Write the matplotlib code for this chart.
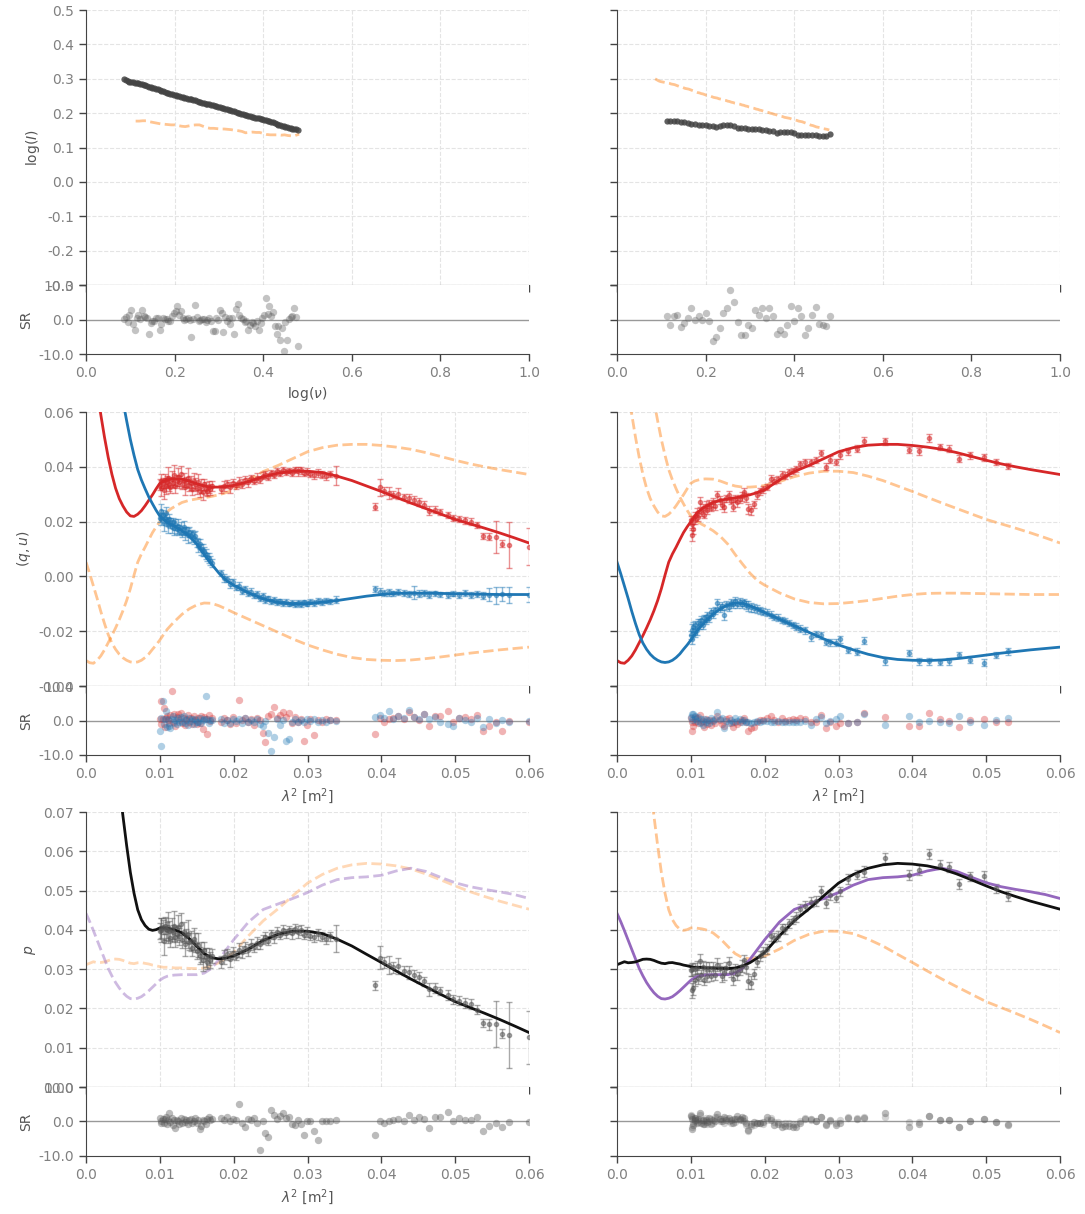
import numpy as np
import matplotlib.pyplot as plt

plt.rcParams['axes.unicode_minus'] = False
plt.rcParams['font.size'] = 10

RED = '#d62728'
BLUE = '#1f77b4'
ORANGE = '#ff7f0e'
PURPLE = '#9467bd'
BLACK = '#111111'
GREY = '#555555'
SPINE = '#444444'
TICK = '#808080'
LABEL = '#555555'

# spectra: log(nu), log(I) and standardised residuals, source a / source b
lognu_a = [0.086, 0.090, 0.094, 0.098, 0.102, 0.106, 0.110, 0.114, 0.118, 0.122,
           0.126, 0.130, 0.134, 0.138, 0.142, 0.146, 0.150, 0.154, 0.158, 0.162,
           0.166, 0.170, 0.174, 0.178, 0.182, 0.186, 0.190, 0.194, 0.198, 0.202,
           0.206, 0.210, 0.214, 0.218, 0.222, 0.226, 0.230, 0.234, 0.238, 0.242,
           0.246, 0.250, 0.254, 0.258, 0.262, 0.266, 0.270, 0.274, 0.278, 0.282,
           0.286, 0.290, 0.294, 0.298, 0.302, 0.306, 0.310, 0.314, 0.318, 0.322,
           0.326, 0.330, 0.334, 0.338, 0.342, 0.346, 0.350, 0.354, 0.358, 0.362,
           0.366, 0.370, 0.374, 0.378, 0.382, 0.386, 0.390, 0.394, 0.398, 0.402,
           0.406, 0.410, 0.414, 0.418, 0.422, 0.426, 0.430, 0.434, 0.438, 0.442,
           0.446, 0.450, 0.454, 0.458, 0.462, 0.466, 0.470, 0.474, 0.479]
logI_a = [0.300, 0.297, 0.294, 0.292, 0.291, 0.290, 0.289, 0.288, 0.287, 0.285,
          0.284, 0.283, 0.281, 0.279, 0.277, 0.276, 0.274, 0.272, 0.271, 0.270,
          0.268, 0.266, 0.264, 0.262, 0.260, 0.259, 0.257, 0.256, 0.254, 0.252,
          0.251, 0.250, 0.248, 0.246, 0.245, 0.244, 0.242, 0.241, 0.240, 0.238,
          0.237, 0.235, 0.234, 0.232, 0.231, 0.229, 0.228, 0.227, 0.226, 0.224,
          0.223, 0.221, 0.220, 0.218, 0.217, 0.215, 0.214, 0.212, 0.211, 0.209,
          0.208, 0.206, 0.205, 0.203, 0.202, 0.200, 0.199, 0.197, 0.196, 0.194,
          0.193, 0.191, 0.190, 0.188, 0.187, 0.186, 0.185, 0.183, 0.182, 0.180,
          0.179, 0.177, 0.176, 0.175, 0.173, 0.171, 0.169, 0.167, 0.165, 0.164,
          0.162, 0.160, 0.159, 0.158, 0.156, 0.155, 0.154, 0.153, 0.151]
sr_I_a = [0.2, 0.8, -0.6, 1.2, 2.9, -1.2, -2.9, 0.4, 1.4, 0.2,
          2.9, 1.0, 0.6, 0.3, -4.3, -1.0, -0.5, -0.3, 0.3, 0.5,
          -2.9, -1.3, 0.5, 0.2, 0.1, -0.4, -0.3, 0.9, 1.8, 2.6,
          3.9, 1.2, 2.4, 0.3, -0.2, 0.2, 0.4, -0.1, -5.0, 0.2,
          4.1, 0.6, -0.4, -0.2, 0.2, 0.1, -0.6, 0.0, 0.5, -0.3,
          -3.4, -3.2, 0.3, -0.1, 2.9, 1.8, -3.7, 0.6, -0.5, 0.4,
          -1.2, 0.3, -4.1, 3.0, 4.6, 1.2, 0.5, 0.1, -0.8, -0.3,
          -2.9, -1.5, -0.6, -0.9, -1.8, -0.4, -3.1, -1.0, 0.4, 1.2,
          6.3, 1.6, 3.9, 1.0, 2.3, -2.0, -4.3, -1.8, -6.0, -2.5,
          -9.2, -0.6, -6.0, 0.2, 0.6, 1.0, 3.4, 0.8, -7.7]

lognu_b = [0.112, 0.120, 0.128, 0.136, 0.144, 0.152, 0.160, 0.168, 0.176, 0.184,
           0.192, 0.200, 0.208, 0.216, 0.224, 0.232, 0.240, 0.248, 0.256, 0.264,
           0.272, 0.280, 0.288, 0.296, 0.304, 0.312, 0.320, 0.328, 0.336, 0.344,
           0.352, 0.360, 0.368, 0.376, 0.384, 0.392, 0.400, 0.408, 0.416, 0.424,
           0.432, 0.440, 0.448, 0.456, 0.464, 0.472, 0.481]
logI_b = [0.177, 0.177, 0.178, 0.178, 0.175, 0.173, 0.171, 0.169, 0.168, 0.167,
          0.166, 0.166, 0.164, 0.162, 0.161, 0.163, 0.165, 0.166, 0.166, 0.162,
          0.158, 0.156, 0.156, 0.155, 0.154, 0.154, 0.153, 0.152, 0.150, 0.149,
          0.147, 0.143, 0.144, 0.145, 0.144, 0.144, 0.141, 0.138, 0.137, 0.137,
          0.137, 0.136, 0.137, 0.135, 0.134, 0.135, 0.139]
sr_I_b = [1.0, -1.7, 0.9, 1.4, -2.1, -0.9, 0.3, 3.4, 0.0, 1.0,
          -0.2, 1.9, -0.5, -6.1, -5.2, -2.4, 2.0, 3.4, 8.5, 5.0,
          -0.8, -4.5, -4.5, -1.5, -2.4, 2.7, 1.4, 3.4, 0.5, 3.4,
          1.0, -4.1, -2.9, -4.3, -1.5, 3.9, -0.5, 3.4, 1.0, -4.5,
          -2.4, 1.2, 3.6, -1.2, -1.5, -1.8, 1.0]

# Stokes q, u against lambda^2, source a
lam2_a = [0.0100, 0.0101, 0.0102, 0.0104, 0.0105, 0.0107, 0.0108, 0.0110, 0.0111, 0.0113,
          0.0114, 0.0116, 0.0118, 0.0119, 0.0121, 0.0123, 0.0124, 0.0126, 0.0128, 0.0130,
          0.0132, 0.0134, 0.0136, 0.0138, 0.0140, 0.0142, 0.0144, 0.0146, 0.0148, 0.0150,
          0.0152, 0.0154, 0.0156, 0.0158, 0.0160, 0.0162, 0.0164, 0.0166, 0.0168, 0.0170,
          0.0183, 0.0187, 0.0191, 0.0195, 0.0199, 0.0203, 0.0207, 0.0211, 0.0215, 0.0219,
          0.0223, 0.0227, 0.0231, 0.0235, 0.0239, 0.0243, 0.0247, 0.0251, 0.0255, 0.0259,
          0.0263, 0.0267, 0.0271, 0.0275, 0.0279, 0.0283, 0.0287, 0.0291, 0.0295, 0.0299,
          0.0304, 0.0309, 0.0314, 0.0319, 0.0325, 0.0331, 0.0338,
          0.0392, 0.0398, 0.0404, 0.0410, 0.0416, 0.0423, 0.0430, 0.0437, 0.0444, 0.0451,
          0.0458, 0.0465, 0.0472, 0.0479, 0.0490, 0.0497, 0.0505, 0.0513, 0.0521, 0.0529,
          0.0537, 0.0546, 0.0555, 0.0564, 0.0573, 0.0600]
q_a = [0.0335, 0.0322, 0.0348, 0.0340, 0.0316, 0.0352, 0.0330, 0.0345, 0.0361, 0.0338,
       0.0325, 0.0356, 0.0342, 0.0370, 0.0331, 0.0349, 0.0362, 0.0345, 0.0375, 0.0338,
       0.0352, 0.0327, 0.0346, 0.0359, 0.0333, 0.0341, 0.0318, 0.0350, 0.0336, 0.0322,
       0.0344, 0.0313, 0.0329, 0.0308, 0.0337, 0.0320, 0.0311, 0.0326, 0.0318, 0.0330,
       0.0318, 0.0330, 0.0338, 0.0325, 0.0341, 0.0332, 0.0346, 0.0339, 0.0352, 0.0344,
       0.0358, 0.0349, 0.0361, 0.0355, 0.0368, 0.0372, 0.0364, 0.0378, 0.0371, 0.0383,
       0.0376, 0.0388, 0.0380, 0.0386, 0.0379, 0.0390, 0.0383, 0.0387, 0.0376, 0.0382,
       0.0374, 0.0369, 0.0378, 0.0371, 0.0366, 0.0373, 0.0368,
       0.0255, 0.0325, 0.0312, 0.0305, 0.0298, 0.0302, 0.0290, 0.0285, 0.0280, 0.0272,
       0.0262, 0.0240, 0.0244, 0.0236, 0.0224, 0.0214, 0.0210, 0.0205, 0.0200, 0.0186,
       0.0148, 0.0145, 0.0145, 0.0120, 0.0114, 0.0108]
u_a = [0.0215, 0.0238, 0.0208, 0.0225, 0.0196, 0.0212, 0.0230, 0.0201, 0.0186, 0.0209,
       0.0194, 0.0182, 0.0199, 0.0178, 0.0190, 0.0172, 0.0185, 0.0168, 0.0176, 0.0160,
       0.0181, 0.0158, 0.0166, 0.0150, 0.0162, 0.0147, 0.0155, 0.0139, 0.0148, 0.0125,
       0.0112, 0.0118, 0.0100, 0.0097, 0.0090, 0.0082, 0.0072, 0.0066, 0.0058, 0.0048,
       0.0012, -0.0006, -0.0010, -0.0026, -0.0022, -0.0040, -0.0036, -0.0052, -0.0046, -0.0060,
       -0.0055, -0.0069, -0.0065, -0.0078, -0.0072, -0.0085, -0.0080, -0.0090, -0.0086, -0.0094,
       -0.0090, -0.0098, -0.0093, -0.0101, -0.0096, -0.0102, -0.0097, -0.0100, -0.0095, -0.0099,
       -0.0093, -0.0097, -0.0090, -0.0094, -0.0088, -0.0091, -0.0085,
       -0.0046, -0.0055, -0.0060, -0.0058, -0.0062, -0.0057, -0.0061, -0.0064, -0.0059, -0.0063,
       -0.0060, -0.0066, -0.0062, -0.0065, -0.0068, -0.0063, -0.0066, -0.0061, -0.0067, -0.0064,
       -0.0070, -0.0066, -0.0069, -0.0063, -0.0067, -0.0066]
eq_a = [0.0020, 0.0030, 0.0025, 0.0018, 0.0035, 0.0022, 0.0028, 0.0020, 0.0040, 0.0025,
        0.0022, 0.0030, 0.0018, 0.0038, 0.0025, 0.0020, 0.0032, 0.0022, 0.0028, 0.0020,
        0.0025, 0.0030, 0.0018, 0.0035, 0.0022, 0.0026, 0.0020, 0.0028, 0.0024, 0.0020,
        0.0030, 0.0022, 0.0025, 0.0028, 0.0020, 0.0024, 0.0018, 0.0022, 0.0020, 0.0018,
        0.0015, 0.0018, 0.0014, 0.0020, 0.0016, 0.0012, 0.0018, 0.0015, 0.0013, 0.0016,
        0.0014, 0.0012, 0.0015, 0.0013, 0.0012, 0.0014, 0.0012, 0.0011, 0.0013, 0.0012,
        0.0011, 0.0012, 0.0011, 0.0010, 0.0013, 0.0011, 0.0015, 0.0012, 0.0011, 0.0013,
        0.0011, 0.0012, 0.0014, 0.0012, 0.0013, 0.0011, 0.0035,
        0.0012, 0.0030, 0.0014, 0.0022, 0.0013, 0.0020, 0.0012, 0.0016, 0.0012, 0.0014,
        0.0012, 0.0016, 0.0012, 0.0010, 0.0012, 0.0011, 0.0012, 0.0012, 0.0012, 0.0011,
        0.0010, 0.0013, 0.0058, 0.0012, 0.0085, 0.0067]
eu_a = [0.0018, 0.0025, 0.0020, 0.0016, 0.0030, 0.0018, 0.0022, 0.0016, 0.0028, 0.0020,
        0.0018, 0.0024, 0.0015, 0.0026, 0.0020, 0.0016, 0.0025, 0.0018, 0.0022, 0.0016,
        0.0020, 0.0024, 0.0015, 0.0028, 0.0018, 0.0020, 0.0016, 0.0022, 0.0018, 0.0016,
        0.0024, 0.0018, 0.0020, 0.0022, 0.0016, 0.0018, 0.0015, 0.0018, 0.0016, 0.0015,
        0.0012, 0.0014, 0.0011, 0.0016, 0.0012, 0.0010, 0.0014, 0.0012, 0.0010, 0.0012,
        0.0011, 0.0010, 0.0012, 0.0010, 0.0010, 0.0011, 0.0010, 0.0009, 0.0010, 0.0010,
        0.0009, 0.0010, 0.0009, 0.0008, 0.0010, 0.0009, 0.0012, 0.0010, 0.0009, 0.0010,
        0.0009, 0.0010, 0.0011, 0.0010, 0.0010, 0.0009, 0.0012,
        0.0010, 0.0012, 0.0010, 0.0012, 0.0010, 0.0012, 0.0010, 0.0011, 0.0025, 0.0012,
        0.0010, 0.0012, 0.0010, 0.0010, 0.0011, 0.0010, 0.0011, 0.0010, 0.0010, 0.0010,
        0.0012, 0.0025, 0.0030, 0.0025, 0.0030, 0.0028]
sr_q_a = [0.5, -1.0, 5.6, 0.3, 3.7, -2.0, 0.8, 1.2, 0.2, -0.6,
          1.5, 8.5, -0.4, 2.0, -1.5, 0.9, 1.8, 0.1, 2.3, -0.8,
          0.6, -1.2, 0.3, 1.5, -0.5, 0.7, -0.9, 1.2, 0.2, -1.0,
          0.8, -0.6, 1.3, -2.6, 0.9, 0.4, -3.9, 1.5, -0.2, 0.6,
          -0.4, 0.8, 0.2, -1.1, 0.9, -0.7, 5.9, 0.2, 0.6, -0.5,
          0.4, -1.3, 0.8, 0.2, -3.6, -6.3, 1.2, 2.0, 4.0, 0.6,
          1.7, 2.5, 0.9, 2.1, -0.8, 1.1, -0.3, 0.5, -5.8, -1.4,
          0.3, -4.1, 0.2, -0.3, 0.4, 0.1, 0.2,
          -3.8, 0.8, -0.3, 0.4, 0.6, 1.2, 0.3, 2.4, 1.0, 0.2,
          1.8, -1.6, 1.3, 1.4, 2.7, -0.3, 0.6, 1.0, 0.4, 1.5,
          -2.9, -1.6, -0.4, -3.1, -0.2, -0.3]
sr_u_a = [-3.1, -7.4, 0.6, 5.8, -1.0, 0.4, 2.9, -2.0, 0.3, -1.5,
          -2.2, 0.5, 1.2, -0.8, 0.2, -1.1, 0.6, -0.3, 0.9, -0.5,
          1.4, -0.7, 0.2, -1.2, 0.8, -0.2, 0.5, -0.9, 0.4, -0.4,
          -0.3, 0.6, -0.8, 0.2, 0.5, 7.2, 0.3, -0.6, 0.1, 0.2,
          0.4, -0.6, 0.2, -0.8, 0.5, -0.2, 0.3, -0.7, 0.6, -0.3,
          0.2, -0.5, 0.4, -0.9, -1.6, -0.2, -3.6, -8.7, -4.8, 0.3,
          -1.2, 0.2, -6.0, -5.5, -0.5, 0.3, -0.4, 0.2, -0.3, 0.4,
          -0.2, 0.3, -0.5, 0.1, -0.3, 0.2, -0.1,
          1.0, 1.7, 0.8, 2.7, 0.5, 1.2, 0.6, 3.0, 0.9, 0.4,
          2.0, 0.3, 1.1, -0.4, -1.0, -1.6, 0.7, 0.2, -0.5, 0.8,
          -1.8, 0.3, -0.6, 0.1, -0.3, 0.0]
sr_p_a = [1.0, 0.2, -0.5, 0.8, -0.3, 0.6, 1.2, -0.8, 0.4, 2.4,
          -0.2, 0.9, -1.0, 0.3, -1.9, 0.5, 0.2, -0.6, 1.1, -0.4,
          0.7, -0.1, 0.5, -0.8, 0.3, 0.6, -0.5, 0.2, 0.9, -0.3,
          0.4, -2.2, -1.4, 0.5, 0.1, -0.6, 0.8, 1.2, 0.3, 0.7,
          0.9, 0.4, 1.2, 0.2, 0.6, 0.5, 5.0, -0.4, -1.7, 0.8,
          0.3, 1.0, -0.5, -8.2, 0.2, -3.2, -4.6, 3.4, 1.9, 0.8,
          1.6, 2.4, 1.0, 1.4, -0.6, -0.9, 0.3, -0.8, -3.9, 0.1,
          0.2, -2.9, -5.5, 0.0, 0.2, 0.1, 0.3,
          -3.9, 0.2, -0.4, 0.1, 0.3, 0.6, 0.2, 1.9, 0.5, 1.2,
          0.8, -1.9, 1.3, 1.4, 2.7, 0.1, 1.0, 0.4, 0.5, 1.2,
          -2.7, -1.4, -0.3, -1.7, -0.1, -0.1]

# Stokes q, u against lambda^2, source b
lam2_b = [0.0100, 0.0101, 0.0102, 0.0103, 0.0105, 0.0106, 0.0108, 0.0110, 0.0112, 0.0114,
          0.0116, 0.0118, 0.0120, 0.0122, 0.0124, 0.0127, 0.0130, 0.0133, 0.0136, 0.0139,
          0.0142, 0.0145, 0.0148, 0.0151, 0.0154, 0.0157, 0.0160, 0.0163, 0.0166, 0.0169,
          0.0172, 0.0175, 0.0178, 0.0181,
          0.0185, 0.0189, 0.0193, 0.0198, 0.0203, 0.0208, 0.0213, 0.0218, 0.0223, 0.0228,
          0.0233, 0.0238, 0.0243, 0.0248, 0.0255, 0.0263, 0.0270, 0.0276, 0.0283, 0.0289,
          0.0296, 0.0302, 0.0313, 0.0325, 0.0334,
          0.0363, 0.0396, 0.0409, 0.0422, 0.0437, 0.0450, 0.0463, 0.0478, 0.0497, 0.0513, 0.0529]
q_b = [0.0207, 0.0150, 0.0192, 0.0172, 0.0221, 0.0205, 0.0232, 0.0218, 0.0271, 0.0236,
       0.0249, 0.0226, 0.0258, 0.0242, 0.0264, 0.0250, 0.0270, 0.0258, 0.0296, 0.0279,
       0.0262, 0.0253, 0.0285, 0.0296, 0.0276, 0.0255, 0.0284, 0.0270, 0.0283, 0.0292,
       0.0308, 0.0288, 0.0246, 0.0241,
       0.0263, 0.0296, 0.0310, 0.0318, 0.0326, 0.0357, 0.0350, 0.0354, 0.0372, 0.0368,
       0.0380, 0.0386, 0.0392, 0.0411, 0.0417, 0.0417, 0.0425, 0.0450, 0.0401, 0.0426,
       0.0417, 0.0442, 0.0457, 0.0466, 0.0496,
       0.0494, 0.0462, 0.0457, 0.0505, 0.0472, 0.0466, 0.0430, 0.0442, 0.0435, 0.0417, 0.0403]
u_b = [-0.0215, -0.0195, -0.0230, -0.0185, -0.0205, -0.0178, -0.0196, -0.0170, -0.0173, -0.0160,
       -0.0176, -0.0152, -0.0158, -0.0145, -0.0150, -0.0130, -0.0138, -0.0124, -0.0098, -0.0115,
       -0.0108, -0.0142, -0.0104, -0.0110, -0.0096, -0.0102, -0.0090, -0.0099, -0.0093, -0.0100,
       -0.0095, -0.0104, -0.0108, -0.0112,
       -0.0115, -0.0118, -0.0124, -0.0128, -0.0132, -0.0140, -0.0148, -0.0150, -0.0158, -0.0163,
       -0.0170, -0.0179, -0.0183, -0.0191, -0.0197, -0.0221, -0.0210, -0.0215, -0.0240, -0.0240,
       -0.0242, -0.0230, -0.0268, -0.0274, -0.0234,
       -0.0309, -0.0279, -0.0310, -0.0310, -0.0313, -0.0310, -0.0286, -0.0304, -0.0315, -0.0286, -0.0273]
err_b = [0.0015, 0.0020, 0.0016, 0.0018, 0.0015, 0.0014, 0.0016, 0.0015, 0.0018, 0.0014,
         0.0015, 0.0013, 0.0016, 0.0014, 0.0015, 0.0013, 0.0015, 0.0014, 0.0016, 0.0014,
         0.0015, 0.0018, 0.0014, 0.0016, 0.0013, 0.0015, 0.0014, 0.0016, 0.0014, 0.0015,
         0.0013, 0.0015, 0.0018, 0.0016,
         0.0013, 0.0014, 0.0012, 0.0013, 0.0012, 0.0013, 0.0012, 0.0012, 0.0011, 0.0012,
         0.0012, 0.0011, 0.0012, 0.0012, 0.0012, 0.0013, 0.0012, 0.0012, 0.0012, 0.0013,
         0.0012, 0.0012, 0.0012, 0.0012, 0.0013,
         0.0013, 0.0012, 0.0012, 0.0013, 0.0012, 0.0012, 0.0012, 0.0012, 0.0012, 0.0012, 0.0012]
sr_q_b = [0.8, -2.9, -0.3, -1.6, 0.9, -0.5, 0.6, -0.8, 1.5, -0.4,
          -0.2, -1.8, 0.3, -0.9, 0.2, -1.2, 0.1, -0.7, 1.4, 0.2,
          -1.1, -1.6, 0.3, 0.7, -0.6, -1.9, -0.3, -1.0, -0.4, 0.1,
          0.8, -0.3, -2.9, -2.2,
          -1.8, -0.3, 0.2, 0.1, 0.6, 1.4, 0.2, -0.5, 0.6, -0.2,
          0.1, 0.3, 0.1, 0.7, 0.4, -0.5, -0.3, 1.6, -2.3, -0.5,
          -1.7, -0.7, -0.6, -0.4, 2.2,
          1.0, -1.5, -1.6, 2.2, 0.5, 0.0, -1.8, 0.2, 0.3, -0.3, -0.4]
sr_u_b = [1.1, 2.0, 0.2, 1.8, 0.3, 1.2, -0.2, 0.9, -0.6, 0.3,
          -1.2, 0.5, -0.4, 0.2, -0.6, 0.8, -0.2, 0.5, 2.4, 0.3,
          0.6, -2.2, -0.1, -0.8, 0.2, -0.5, 0.6, -0.2, 0.3, -0.4,
          0.2, -0.5, -0.4, -0.6,
          -0.3, -0.2, -0.3, -0.2, -0.1, -0.3, -0.5, -0.2, -0.4, -0.3,
          -0.3, -0.5, -0.4, -0.5, -0.2, -1.3, 0.5, 0.9, -0.8, -0.2,
          0.4, 1.2, -0.6, -0.5, 2.0,
          -1.2, 1.3, -0.3, -0.2, -0.5, -0.6, 1.3, -0.3, -1.3, 0.2, 0.7]
sr_p_b = [1.5, -2.2, 0.8, -1.0, 0.4, 0.9, -0.3, 0.6, 2.6, -0.5,
          0.3, -0.8, 0.5, -0.2, 1.0, -0.6, 0.4, 0.2, 2.3, 0.7,
          0.1, 1.2, 0.5, 0.9, 0.3, -0.4, 0.6, 1.5, 0.8, 1.2,
          0.9, -0.3, -2.4, -0.6,
          -0.2, -0.4, -0.3, -0.1, 1.2, 0.3, -1.0, -0.8, -1.5, -1.4,
          -1.3, -1.6, -1.5, -0.4, 0.8, 0.6, 0.2, 1.3, -1.1, 0.5,
          -0.9, -0.4, 0.9, 0.6, 1.0,
          2.4, -1.5, -0.8, 1.7, 0.5, 0.4, -1.7, 0.2, 0.7, -0.2, -1.0]
sr_pp_b = [2.0, -1.6, 1.2, -0.5, 1.0, 0.2, 0.4, -0.2, 1.8, 0.3,
           -0.6, 0.1, 1.0, -0.8, 0.2, 0.6, -0.4, 1.3, 1.4, 0.0,
           0.6, -0.5, 1.1, 0.2, -0.3, 0.8, -0.1, 0.7, 0.3, 0.5,
           0.2, -1.0, -2.8, -1.2,
           -1.0, -0.3, -0.4, -0.6, 0.4, 0.9, -0.2, -0.1, -0.6, -0.5,
           -0.4, -0.8, -0.6, 0.2, 0.9, 0.3, 0.2, 1.2, -0.6, 0.2,
           -0.5, 0.3, 1.2, 0.9, 1.4,
           1.2, -0.2, -0.1, 1.7, 0.3, 0.4, -1.7, 0.1, 0.8, -0.2, -0.8]

# fitted models on a common lambda^2 grid
lam2_mod = [0.0000, 0.0005, 0.0010, 0.0015, 0.0020, 0.0025, 0.0030, 0.0035, 0.0040, 0.0045,
            0.0050, 0.0055, 0.0060, 0.0065, 0.0070, 0.0075, 0.0080, 0.0085, 0.0090, 0.0095,
            0.0100, 0.0105, 0.0110, 0.0115, 0.0120, 0.0130, 0.0140, 0.0150, 0.0160, 0.0170,
            0.0180, 0.0190, 0.0200, 0.0220, 0.0240, 0.0260, 0.0280, 0.0300, 0.0320, 0.0340,
            0.0360, 0.0380, 0.0400, 0.0420, 0.0440, 0.0460, 0.0480, 0.0500, 0.0520, 0.0540,
            0.0560, 0.0580, 0.0600]
q_mod_a = [0.1000, 0.0890, 0.0780, 0.0683, 0.0590, 0.0508, 0.0435, 0.0373, 0.0322, 0.0284,
           0.0257, 0.0235, 0.0221, 0.0219, 0.0227, 0.0240, 0.0258, 0.0278, 0.0298, 0.0320,
           0.0340, 0.0348, 0.0352, 0.0355, 0.0356, 0.0355, 0.0348, 0.0338, 0.0330, 0.0326,
           0.0326, 0.0328, 0.0332, 0.0346, 0.0364, 0.0377, 0.0384, 0.0384, 0.0379, 0.0366,
           0.0350, 0.0330, 0.0310, 0.0289, 0.0268, 0.0248, 0.0228, 0.0208, 0.0192, 0.0176,
           0.0159, 0.0141, 0.0122]
u_mod_a = [0.1500, 0.1400, 0.1300, 0.1210, 0.1120, 0.1035, 0.0950, 0.0870, 0.0790, 0.0713,
           0.0640, 0.0568, 0.0500, 0.0442, 0.0390, 0.0352, 0.0320, 0.0290, 0.0265, 0.0241,
           0.0220, 0.0208, 0.0198, 0.0190, 0.0183, 0.0167, 0.0146, 0.0118, 0.0080, 0.0045,
           0.0012, -0.0015, -0.0032, -0.0060, -0.0082, -0.0095, -0.0100, -0.0099, -0.0094, -0.0088,
           -0.0080, -0.0072, -0.0066, -0.0062, -0.0061, -0.0061, -0.0062, -0.0063, -0.0064, -0.0065,
           -0.0066, -0.0066, -0.0066]
q_mod_b = [-0.0307, -0.0315, -0.0317, -0.0306, -0.0290, -0.0268, -0.0242, -0.0216, -0.0188, -0.0158,
           -0.0125, -0.0088, -0.0045, 0.0005, 0.0052, 0.0082, 0.0107, 0.0134, 0.0160, 0.0181,
           0.0200, 0.0219, 0.0236, 0.0247, 0.0255, 0.0270, 0.0278, 0.0283, 0.0287, 0.0292,
           0.0298, 0.0306, 0.0316, 0.0352, 0.0383, 0.0405, 0.0430, 0.0455, 0.0470, 0.0479,
           0.0482, 0.0482, 0.0478, 0.0472, 0.0464, 0.0452, 0.0438, 0.0424, 0.0411, 0.0400,
           0.0390, 0.0381, 0.0372]
u_mod_b = [0.0052, 0.0010, -0.0035, -0.0080, -0.0128, -0.0172, -0.0212, -0.0243, -0.0266, -0.0284,
           -0.0297, -0.0306, -0.0312, -0.0314, -0.0312, -0.0306, -0.0296, -0.0283, -0.0266, -0.0250,
           -0.0232, -0.0212, -0.0193, -0.0178, -0.0164, -0.0138, -0.0118, -0.0104, -0.0097, -0.0098,
           -0.0107, -0.0119, -0.0132, -0.0156, -0.0180, -0.0204, -0.0228, -0.0250, -0.0268, -0.0284,
           -0.0296, -0.0303, -0.0306, -0.0307, -0.0305, -0.0300, -0.0294, -0.0287, -0.0280, -0.0274,
           -0.0268, -0.0263, -0.0258]
# second polarised-fraction model for source b
p2_mod_b = [0.0442, 0.0421, 0.0398, 0.0374, 0.0350, 0.0326, 0.0302, 0.0283, 0.0266, 0.0252,
            0.0240, 0.0231, 0.0225, 0.0224, 0.0226, 0.0230, 0.0237, 0.0245, 0.0254, 0.0263,
            0.0272, 0.0278, 0.0282, 0.0284, 0.0285, 0.0286, 0.0286, 0.0286, 0.0290, 0.0302,
            0.0325, 0.0350, 0.0375, 0.0420, 0.0452, 0.0466, 0.0480, 0.0495, 0.0514, 0.0528,
            0.0533, 0.0535, 0.0539, 0.0550, 0.0557, 0.0549, 0.0534, 0.0520, 0.0510, 0.0503,
            0.0497, 0.0490, 0.0480]

# polarised fraction p = sqrt(q^2 + u^2)
p_a = np.hypot(q_a, u_a)
p_b = np.hypot(q_b, u_b)
p_mod_a = np.hypot(q_mod_a, u_mod_a)
p_mod_b = np.hypot(q_mod_b, u_mod_b)

fig = plt.figure(figsize=(10.85, 12.14), dpi=100)
col_x = [0.0793, 0.5687]
W = 0.4083
row_y = [(0.7652, 0.2265, 0.7084, 0.0568),
         (0.4349, 0.2257, 0.3781, 0.0568),
         (0.1046, 0.2265, 0.0478, 0.0568)]


def panel(col, row, ylim, yticks, fmt, ylabel):
    my, mh, ry, rh = row_y[row]
    ax = fig.add_axes([col_x[col], my, W, mh])
    sr = fig.add_axes([col_x[col], ry, W, rh], sharex=ax)
    for a in (ax, sr):
        a.spines[['top', 'right']].set_visible(False)
        a.spines[['left', 'bottom']].set_color(SPINE)
        a.tick_params(direction='out', length=5, width=1, color=SPINE,
                      labelcolor=TICK, labelsize=10)
    ax.tick_params(labelbottom=False)
    ax.grid(True, ls='--', lw=0.8, color='#e4e4e4')
    ax.set_axisbelow(True)
    ax.set_ylim(ylim)
    ax.set_yticks(yticks)
    sr.set_ylim(-10, 10)
    sr.set_yticks([-10, 0, 10])
    sr.axhline(0, color='#999999', lw=1, zorder=0)
    if col == 0:
        ax.set_yticklabels([fmt % t for t in yticks])
        ax.set_ylabel(ylabel, color=LABEL)
        sr.set_yticklabels(['-10.0', '0.0', '10.0'])
        sr.set_ylabel('SR', color=LABEL)
    else:
        ax.tick_params(labelleft=False)
        sr.tick_params(labelleft=False)
    return ax, sr


def lam_axis(sr, label):
    sr.set_xlim(0, 0.06)
    ticks = [0.0, 0.01, 0.02, 0.03, 0.04, 0.05, 0.06]
    sr.set_xticks(ticks)
    sr.set_xticklabels([str(t) for t in ticks])
    if label:
        sr.set_xlabel('$\\lambda^2$ [m$^2$]', color=LABEL)


# row 1: spectra
I_ticks = [-0.3, -0.2, -0.1, 0.0, 0.1, 0.2, 0.3, 0.4, 0.5]
for col in range(2):
    ax, sr = panel(col, 0, (-0.3, 0.5), I_ticks, '%.1f', 'log($I$)')
    if col == 0:
        x, y, r, xo, yo = lognu_a, logI_a, sr_I_a, lognu_b, logI_b
    else:
        x, y, r, xo, yo = lognu_b, logI_b, sr_I_b, lognu_a, logI_a
    ax.plot(xo, yo, '--', color=ORANGE, alpha=0.45, lw=2)
    ax.plot(x, y, 'o', color='#444444', ms=4.5, alpha=0.85, mec='none')
    sr.scatter(x, r, s=28, color=GREY, alpha=0.35, lw=0)
    sr.set_xlim(0, 1)
    sr.set_xticks([0.0, 0.2, 0.4, 0.6, 0.8, 1.0])
    sr.set_xticklabels(['0.0', '0.2', '0.4', '0.6', '0.8', '1.0'])
    if col == 0:
        sr.set_xlabel('log($\\nu$)', color=LABEL)

# row 2: Stokes q and u
qu_ticks = [-0.04, -0.02, 0.0, 0.02, 0.04, 0.06]
eb = dict(fmt='o', ms=3, alpha=0.5, capsize=2.5, elinewidth=1, capthick=1)
for col in range(2):
    ax, sr = panel(col, 1, (-0.04, 0.06), qu_ticks, '%.2f', '$(q,u)$')
    if col == 0:
        lam, q, u, eq, eu = lam2_a, q_a, u_a, eq_a, eu_a
        rq, ru = sr_q_a, sr_u_a
        qm, um, qo, uo = q_mod_a, u_mod_a, q_mod_b, u_mod_b
    else:
        lam, q, u, eq, eu = lam2_b, q_b, u_b, err_b, err_b
        rq, ru = sr_q_b, sr_u_b
        qm, um, qo, uo = q_mod_b, u_mod_b, q_mod_a, u_mod_a
    ax.plot(lam2_mod, qo, '--', color=ORANGE, alpha=0.45, lw=2)
    ax.plot(lam2_mod, uo, '--', color=ORANGE, alpha=0.45, lw=2)
    ax.errorbar(lam, q, yerr=eq, color=RED, **eb)
    ax.errorbar(lam, u, yerr=eu, color=BLUE, **eb)
    ax.plot(lam2_mod, qm, color=RED, lw=2)
    ax.plot(lam2_mod, um, color=BLUE, lw=2)
    sr.scatter(lam, rq, s=28, color=RED, alpha=0.35, lw=0)
    sr.scatter(lam, ru, s=28, color=BLUE, alpha=0.35, lw=0)
    lam_axis(sr, True)

# row 3: polarised fraction
p_ticks = [0.0, 0.01, 0.02, 0.03, 0.04, 0.05, 0.06, 0.07]
ax, sr = panel(0, 2, (0.0, 0.07), p_ticks, '%.2f', '$p$')
ax.plot(lam2_mod, p_mod_b, '--', color=ORANGE, alpha=0.3, lw=2)
ax.plot(lam2_mod, p2_mod_b, '--', color=PURPLE, alpha=0.45, lw=2)
ax.errorbar(lam2_a, p_a, yerr=eq_a, color=GREY, **eb)
ax.plot(lam2_mod, p_mod_a, color=BLACK, lw=2)
sr.scatter(lam2_a, sr_p_a, s=28, color=GREY, alpha=0.4, lw=0)
lam_axis(sr, True)

ax, sr = panel(1, 2, (0.0, 0.07), p_ticks, '%.2f', '$p$')
ax.plot(lam2_mod, p_mod_a, '--', color=ORANGE, alpha=0.45, lw=2)
ax.errorbar(lam2_b, p_b, yerr=err_b, color=GREY, **eb)
ax.plot(lam2_mod, p2_mod_b, color=PURPLE, lw=2)
ax.plot(lam2_mod, p_mod_b, color=BLACK, lw=2)
sr.scatter(lam2_b, sr_pp_b, s=28, color=GREY, alpha=0.25, lw=0)
sr.scatter(lam2_b, sr_p_b, s=28, color=GREY, alpha=0.4, lw=0)
lam_axis(sr, False)

fig.savefig('out.png', dpi=100)
